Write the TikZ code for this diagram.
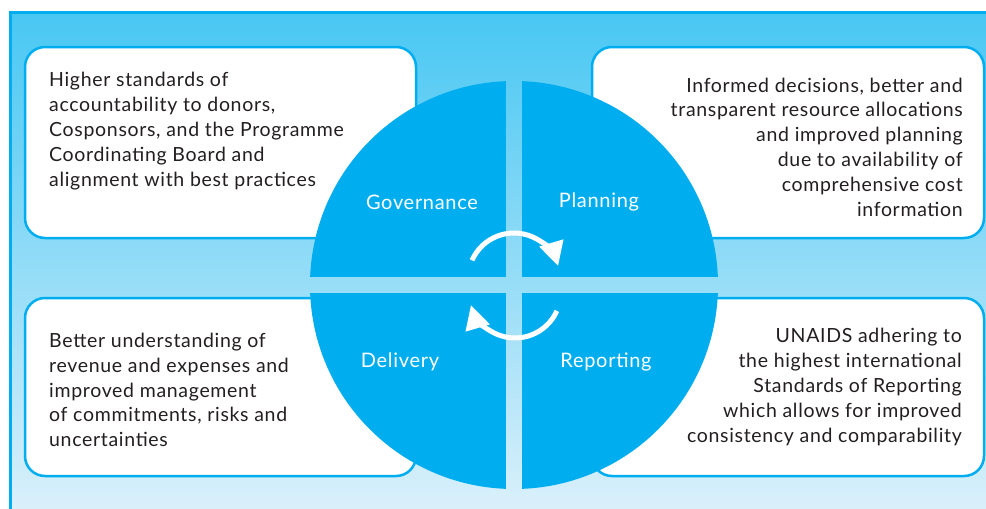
\documentclass[tikz,border=0pt]{standalone}
\usepackage{fontspec}
\setmainfont{Lato}[LetterSpace=3.5]
\usetikzlibrary{arrows.meta}
\usetikzlibrary{positioning}
\definecolor{unblue}{RGB}{0,174,239}
\definecolor{bgtop}{RGB}{72,199,243}
\definecolor{bgmid}{RGB}{152,219,246}
\definecolor{bgbot}{RGB}{218,240,251}
\definecolor{txtgrey}{RGB}{35,31,32}
\tikzset{box/.style = {draw = unblue, line width = 2.5pt, fill = white,
                       rounded corners = 20pt, inner sep = 0}}
\tikzset{txt/.style = {text = txtgrey, inner sep = 0,
                       font = \fontsize{19.5}{24.8}\selectfont}}
\tikzset{quad/.style = {text = white, inner sep = 0,
                        font = \fontsize{20}{24}\selectfont}}
\tikzset{cyc/.style = {draw = white, line width = 5pt,
                       -{Triangle[length=24pt, width=24pt]}}}

\begin{document}
\begin{tikzpicture}[x = 1pt, y = -1pt]
  \useasboundingbox (0, 0) rectangle (986, 509);
  \fill [white] (0, 0) rectangle (986, 509);
  \shade [top color = bgtop, middle color = bgmid, bottom color = bgbot]
    (10.5, 12.5) rectangle (986, 509);
  \draw [unblue, line width = 3pt] (10.5, 509) -- (10.5, 12.5) -- (986, 12.5);
  % outcome boxes
  \node [box, minimum width = 391pt, minimum height = 191pt] (govbox) at (220.5, 142.5) {};
  \node [box, minimum width = 392pt, minimum height = 191pt] (planbox) at (788, 142.5) {};
  \node [box, minimum width = 391pt, minimum height = 178pt] (delbox) at (220.5, 387) {};
  \node [box, minimum width = 392pt, minimum height = 178pt] (repbox) at (788, 387) {};
  % the wheel
  \coordinate (hub) at (514, 285);
  \begin{scope}
    \clip (hub) circle [radius = 204];
    \fill [unblue] (hub) ++(-8, -8) rectangle ++(-210, -210);
    \fill [unblue] (hub) ++(8, -8) rectangle ++(210, -210);
    \fill [unblue] (hub) ++(-8, 8) rectangle ++(-210, 210);
    \fill [unblue] (hub) ++(8, 8) rectangle ++(210, 210);
  \end{scope}
  \draw [cyc] (hub) ++(-42, -24.7) arc [start angle = 204, end angle = 343.5, radius = 46];
  \draw [cyc] (hub) ++(42.9, 25.9) arc [start angle = 24.3, end angle = 163.5, radius = 46];
  \node [quad] (gov) at (422, 202) {Governance};
  \node [quad] (plan) at (599, 202) {Planning};
  \node [quad] (deliv) at (400, 362) {Delivery};
  \node [quad] (rep) at (606, 362) {Reporting};
  % box texts
  \node [txt, anchor = west, align = left] (govtxt) at (49, 131)
    {Higher standards of\\accountability to donors,\\Cosponsors, and the Programme\\Coordinating Board and\\alignment with best practices};
  \node [txt, anchor = east, align = right] (plantxt) at (963, 147)
    {Informed decisions, better and\\transparent resource allocations\\and improved planning\\due to availability of\\comprehensive cost\\information};
  \node [txt, anchor = west, align = left] (deltxt) at (49, 390)
    {Better understanding of\\revenue and expenses and\\improved management\\of commitments, risks and\\uncertainties};
  \node [txt, anchor = east, align = right] (reptxt) at (962, 387)
    {UNAIDS adhering to\\the highest international\\Standards of Reporting\\which allows for improved\\consistency and comparability};
\end{tikzpicture}
\end{document}
